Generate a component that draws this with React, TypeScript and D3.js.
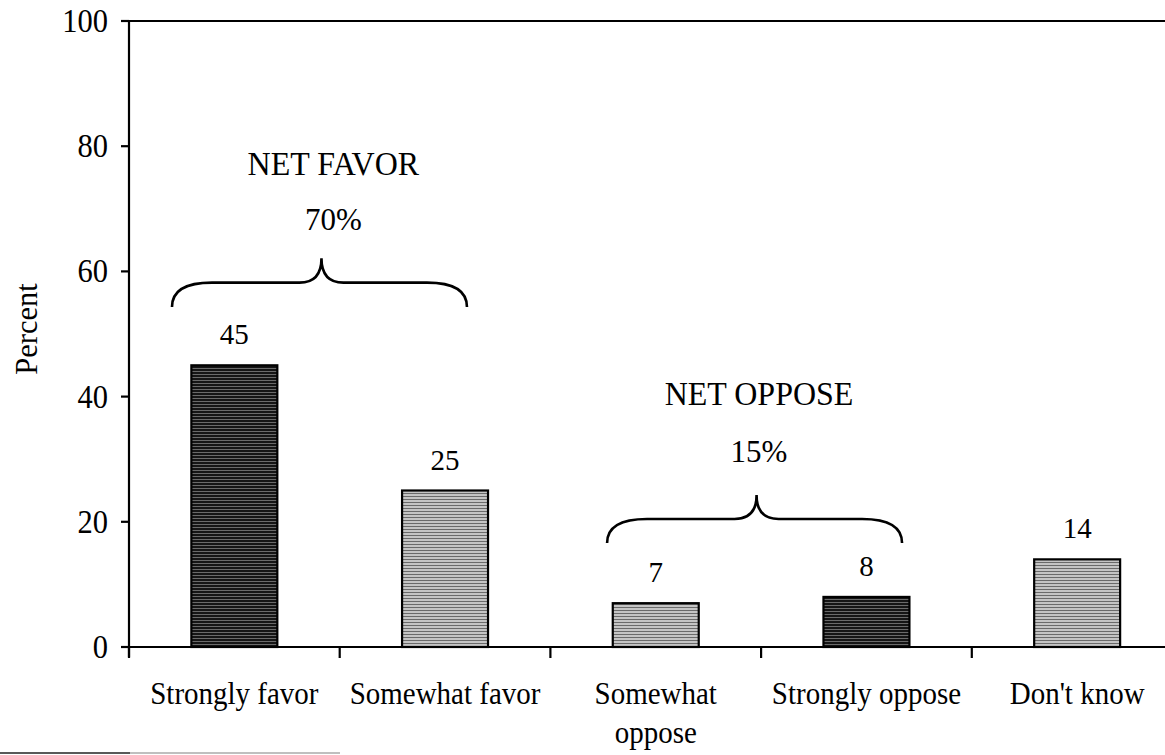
import React from "react";
import * as d3 from "d3";

const categories = ["Strongly favor", "Somewhat favor", "Somewhat oppose", "Strongly oppose", "Don't know"];
const categoryLines = [["Strongly favor"], ["Somewhat favor"], ["Somewhat", "oppose"], ["Strongly oppose"], ["Don't know"]];
const values = [45, 25, 7, 8, 14];
const barShade = ["dark", "light", "light", "dark", "light"];
const yTicks = [0, 20, 40, 60, 80, 100];
const yAxisTitle = "Percent";

// Net group annotations (positions in category units / percent units)
const groupLabels = ["NET FAVOR", "NET OPPOSE"];
const groupTotals = ["70%", "15%"];
const groupStart = [0.204, 2.269];
const groupEnd = [1.604, 3.669];
const groupTextCenter = [0.97, 2.99];
const braceTipValue = [62.1, 24.3];
const braceEndValue = [54.3, 16.6];
const labelValue = [75.4, 38.7];
const totalValue = [66.6, 29.6];

const W = 1165;
const H = 755;
const FONT = "'Liberation Serif', 'Times New Roman', serif";

function T(props: { x: number; y: number; fs: number; sy?: number; anchor?: string; children: React.ReactNode }) {
  const { x, y, fs, sy = 1, anchor = "middle", children } = props;
  return (
    <text
      transform={`translate(${x},${y}) scale(1,${sy})`}
      textAnchor={anchor}
      fontSize={fs}
      fill="#000"
    >
      {children}
    </text>
  );
}

export default function App() {
  const left = 129;
  const right = 1182.5;
  const y = d3.scaleLinear().domain([0, 100]).range([647, 21]);
  const xu = d3.scaleLinear().domain([0, 5]).range([left, right]);
  const x = d3
    .scaleBand<string>()
    .domain(categories)
    .range([left, right])
    .paddingInner(0.592)
    .paddingOuter(0.296);
  const cx = (c: string) => (x(c) as number) + x.bandwidth() / 2;

  const bracePath = (i: number) => {
    const L = xu(groupStart[i]);
    const R = xu(groupEnd[i]);
    const C = (L + R) / 2 + 2;
    const Tp = y(braceTipValue[i]);
    const E = y(braceEndValue[i]);
    const M = (Tp + E) / 2;
    return `M${L},${E} Q${L},${M} ${L + 40},${M} L${C - 22},${M} Q${C},${M} ${C},${Tp} Q${C},${M} ${C + 22},${M} L${R - 40},${M} Q${R},${M} ${R},${E}`;
  };

  return (
    <svg
      width={W}
      height={H}
      style={{ position: "absolute", left: 0, top: 0, background: "#fff" }}
      fontFamily={FONT}
    >
      <defs>
        <pattern id="dark" width={4} height={3} patternUnits="userSpaceOnUse">
          <rect width={4} height={3} fill="#151515" />
          <rect y={2} width={4} height={1} fill="#6a6a6a" />
        </pattern>
        <pattern id="light" width={4} height={3} patternUnits="userSpaceOnUse">
          <rect width={4} height={3} fill="#c4c4c4" />
          <rect y={1} width={4} height={1} fill="#6a6a6a" />
        </pattern>
      </defs>

      {/* bars */}
      {categories.map((c, i) => (
        <rect
          key={c}
          x={x(c)}
          y={y(values[i])}
          width={x.bandwidth()}
          height={y(0) - y(values[i])}
          fill={`url(#${barShade[i]})`}
          stroke="#000"
          strokeWidth={2.2}
        />
      ))}

      {/* value labels */}
      {categories.map((c, i) => (
        <T key={c + "v"} x={cx(c)} y={y(values[i]) - 21} fs={29} sy={1.05}>
          {values[i]}
        </T>
      ))}

      {/* frame top line */}
      <line x1={121} x2={W} y1={y(100)} y2={y(100)} stroke="#000" strokeWidth={2} />
      {/* y axis */}
      <line x1={left} x2={left} y1={y(100)} y2={y(0) + 10} stroke="#000" strokeWidth={2.2} />
      {yTicks.map((t) => (
        <g key={t}>
          <line x1={121} x2={left} y1={y(t)} y2={y(t)} stroke="#000" strokeWidth={2.2} />
          <T x={108} y={y(t) + 11} fs={30.5} sy={1.08} anchor="end">
            {t}
          </T>
        </g>
      ))}
      <text
        transform={`translate(${37},${y(50) - 5}) rotate(-90)`}
        textAnchor="middle"
        fontSize={30.5}
        fill="#000"
      >
        {yAxisTitle}
      </text>

      {/* x axis */}
      <line x1={121} x2={W} y1={y(0)} y2={y(0)} stroke="#000" strokeWidth={2.2} />
      {d3.range(0, 6).map((k) => (
        <line key={k} x1={xu(k)} x2={xu(k)} y1={y(0)} y2={y(0) + 11} stroke="#000" strokeWidth={2.2} />
      ))}
      {categories.map((c, i) =>
        categoryLines[i].map((ln, j) => (
          <T key={c + "l" + j} x={cx(c)} y={704 + j * 39} fs={29} sy={1.12}>
            {ln}
          </T>
        ))
      )}

      {/* net annotations */}
      {groupLabels.map((g, i) => (
        <g key={g}>
          <T x={xu(groupTextCenter[i])} y={y(labelValue[i])} fs={32} sy={1.05}>
            {g}
          </T>
          <T x={xu(groupTextCenter[i])} y={y(totalValue[i])} fs={31} sy={1.05}>
            {groupTotals[i]}
          </T>
          <path d={bracePath(i)} fill="none" stroke="#000" strokeWidth={2.6} />
        </g>
      ))}

      {/* scan edge artifact */}
      <line x1={0} x2={130} y1={753} y2={753} stroke="#222" strokeWidth={1.5} />
      <line x1={130} x2={340} y1={753} y2={753} stroke="#aaa" strokeWidth={1.5} />
    </svg>
  );
}
